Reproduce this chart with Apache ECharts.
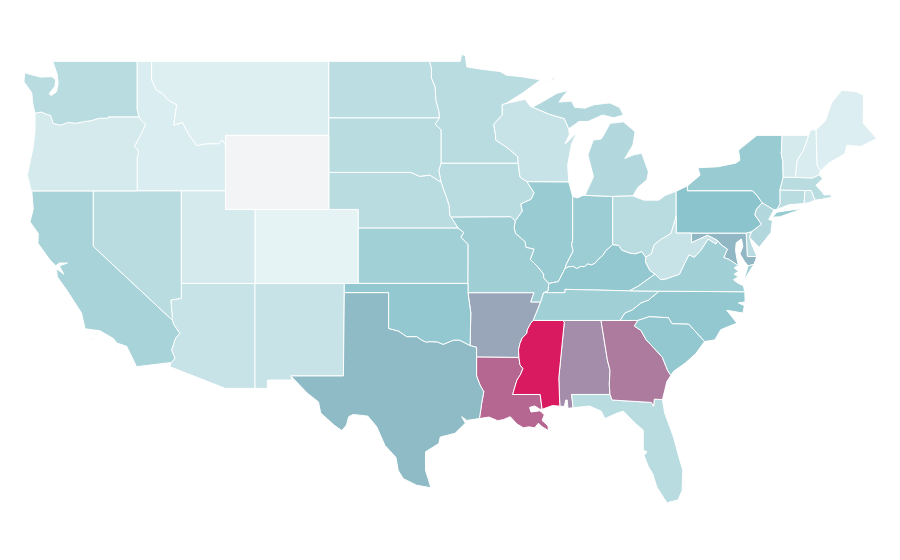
<!DOCTYPE html>
<html>
<head>
<meta charset="utf-8">
<style>
  html, body { margin: 0; padding: 0; background: #fff; }
  #chart { width: 900px; height: 560px; }
</style>
<script src="https://cdn.jsdelivr.net/npm/echarts@6/dist/echarts.min.js"></script>
</head>
<body>
<div id="chart"></div>
<script>
const stateNames = [
  "Alabama", "Arizona", "Arkansas", "California", "Colorado", "Connecticut", "Delaware", "Florida",
  "Georgia", "Idaho", "Illinois", "Indiana", "Iowa", "Kansas", "Kentucky", "Louisiana",
  "Maine", "Maryland", "Massachusetts", "Michigan", "Minnesota", "Mississippi", "Missouri", "Montana",
  "Nebraska", "Nevada", "New Hampshire", "New Jersey", "New Mexico", "New York", "North Carolina", "North Dakota",
  "Ohio", "Oklahoma", "Oregon", "Pennsylvania", "Rhode Island", "South Carolina", "South Dakota", "Tennessee",
  "Texas", "Utah", "Vermont", "Virginia", "Washington", "West Virginia", "Wisconsin", "Wyoming"
];
const stateValues = [
  77.4, 44.4, 72.6, 56.3, 33.3, 49.6, 49.6, 49.6,
  81, 37.4, 61.9, 60, 49.6, 58.1, 63.7, 85,
  36.7, 69.2, 49.6, 52.2, 49.6, 100, 59.3, 36.3,
  49.6, 49.6, 37.8, 52.2, 44.4, 61.5, 63.7, 48.5,
  49.6, 63.7, 39.6, 66.7, 44.4, 63.7, 49.6, 58.9,
  68.4, 39.6, 39.6, 58.9, 49.6, 44.4, 44.4, 0
];
const rampColors = ["#f3f4f5", "#e5f3f5", "#8bc4cc", "#d91a61"];

// shared borders, lon/lat
const rev = a => a.slice().reverse();
const ring = (...parts) => parts.flat();

const columbia = [[-123.95,46.2],[-123.5,46.26],[-123.2,46.15],[-122.9,46.08],[-122.8,45.85],[-122.73,45.65],[-122.25,45.55],[-121.7,45.7],[-121.2,45.65],[-120.65,45.74],[-120.1,45.8],[-119.65,45.92],[-119,45.93],[-118.98,46],[-116.92,46]];
const snake = [[-116.92,46],[-116.75,45.8],[-116.46,45.6],[-116.67,45.25],[-116.85,44.95],[-117.22,44.4],[-117.03,44.25],[-116.93,44.1],[-117.03,43.83],[-117.03,42]];
const idahoMontana = [[-116.05,49],[-116.05,48],[-115.72,47.45],[-115.3,47.25],[-114.95,46.92],[-114.35,46.65],[-114.45,46.15],[-114.55,45.55],[-113.95,45.7],[-113.75,45.35],[-113.45,44.95],[-113,44.45],[-112.3,44.55],[-111.5,44.55],[-111.25,44.75],[-111.05,44.48]];
const redRiverNorth = [[-97.23,49],[-97.1,48.6],[-97.1,48.1],[-96.85,47.6],[-96.8,46.9],[-96.6,46.3],[-96.56,45.94]];
const sdMinnesota = [[-96.56,45.94],[-96.85,45.6],[-96.45,45.3],[-96.45,43.5]];
const bigSioux = [[-96.45,43.5],[-96.6,43.1],[-96.45,42.49]];
const missouriSdNe = [[-98.5,43],[-97.9,42.79],[-97.2,42.85],[-96.7,42.6],[-96.45,42.49]];
const missouriNeIa = [[-96.45,42.49],[-96.25,42],[-96.1,41.7],[-95.9,41.2],[-95.85,40.65],[-95.77,40.58]];
const missouriNeMo = [[-95.77,40.58],[-95.3,40]];
const missouriKsMo = [[-95.3,40],[-94.9,39.75],[-95.1,39.5],[-94.61,39.11],[-94.62,37]];
const redRiverSouth = [[-100,34.56],[-99.33,34.42],[-98.77,34.12],[-98.1,34.12],[-97.75,33.93],[-97.45,33.82],[-97.2,33.85],[-96.7,33.83],[-96.3,33.7],[-95.6,33.93],[-95.2,33.93],[-94.48,33.64]];
const mnWisconsin = [[-92.05,46.72],[-92.3,46.66],[-92.3,46.1],[-92.88,45.6],[-92.75,45],[-92.75,44.75],[-91.9,44.3],[-91.25,43.85],[-91.22,43.5]];
const upperMississippi = [[-91.22,43.5],[-91.1,42.75],[-90.64,42.5]];
const ilRiverWest = [[-90.64,42.5],[-90.15,41.9],[-90.35,41.55],[-91.05,41.3],[-90.95,40.9],[-91.42,40.38]];
const ilMissouri = [[-91.42,40.38],[-91.5,40],[-91.4,39.7],[-90.75,39.25],[-90.7,38.95],[-90.15,38.85],[-90.4,38.3],[-89.9,37.9],[-89.5,37.5],[-89.5,37.3],[-89.15,37]];
const kyIllinois = [[-89.15,37],[-88.5,37.1],[-88.05,37.8]];
const ohioIndiana = [[-88.05,37.8],[-87.8,37.9],[-87.5,37.92],[-87.25,37.8],[-87,37.92],[-86.75,37.9],[-86.5,38.05],[-86.25,38],[-86,38.1],[-85.8,38.3],[-85.5,38.5],[-85.3,38.75],[-84.82,39.1]];
const ohioKentuckyOH = [[-84.82,39.1],[-84.4,39.05],[-84.2,38.8],[-83.7,38.65],[-83.3,38.6],[-82.85,38.72],[-82.58,38.42]];
const ohioWv = [[-82.58,38.42],[-82.2,38.6],[-82,39.1],[-81.5,39.4],[-80.87,39.7],[-80.6,40.4],[-80.52,40.64]];
const bigSandy = [[-82.58,38.42],[-82.6,38.17],[-82.3,37.7],[-81.95,37.5]];
const kyVirginia = [[-81.95,37.5],[-82.3,37.3],[-83.1,36.85],[-83.68,36.6]];
const tnKentucky = [[-83.68,36.6],[-88.05,36.68],[-88.05,36.5],[-89.5,36.5]];
const kyMissouri = [[-89.5,36.5],[-89.2,36.6],[-89.15,37]];
const tnArkansas = [[-89.5,36.5],[-89.7,36],[-89.95,35.5],[-90.2,35]];
const mississippiWest = [[-90.2,35],[-90.37,34.85],[-90.6,34.5],[-90.64,34.3],[-90.95,34.05],[-91.1,33.76],[-91.2,33.4],[-91.17,33]];
const mississippiLa = [[-91.17,33],[-91.1,32.6],[-90.9,32.4],[-91.05,32.1],[-91.31,31.77],[-91.45,31.4],[-91.57,31.07],[-91.6,31]];
const msAlabama = [[-88.2,35],[-88.1,34.9],[-88.47,31.9],[-88.4,30.37]];
const alGeorgia = [[-85.61,35],[-85.18,32.87],[-85,32.3],[-85.05,31.55],[-85,31]];
const gaSc = [[-83.11,35],[-83.35,34.7],[-82.9,34.45],[-82.55,33.95],[-81.9,33.4],[-81.45,33],[-81.1,32.3],[-80.88,32.03]];
const ncTennessee = [[-84.32,35],[-84,35.4],[-83.5,35.57],[-82.9,35.95],[-82.4,36.1],[-81.68,36.58]];
const vaWv = [[-81.95,37.5],[-81.55,37.2],[-81.2,37.25],[-80.3,37.5],[-80,38],[-79.65,38.55],[-79.3,38.42],[-78.87,38.77],[-78.35,39.4],[-77.83,39.13],[-77.72,39.32]];
const mdPotomac = [[-77.72,39.32],[-77.5,39.1],[-77.05,38.85],[-77.3,38.4],[-76.95,38.3],[-76.3,37.95]];
const wvMaryland = [[-77.72,39.32],[-78.4,39.6],[-79.48,39.2],[-79.48,39.72]];
const nyPennEast = [[-75.35,42],[-75.05,41.75],[-74.7,41.36]];
const njPenn = [[-74.7,41.36],[-75.1,41],[-75.2,40.7],[-74.75,40.2],[-75.4,39.8]];
const vtNh = [[-71.55,45],[-71.9,44.2],[-72.33,43.65],[-72.46,42.73]];
const nyVt = [[-73.34,45],[-73.4,44],[-73.3,43.6],[-73.27,42.75]];
const nyCt = [[-73.5,42.05],[-73.49,41.3],[-73.7,41]];
const laPearl = [[-89.6,30.2],[-89.73,31]];
const txLa = [[-94.04,33.02],[-94.04,32],[-93.8,31.5],[-93.55,31.15],[-93.7,30.5],[-93.75,30.2],[-93.85,29.7]];
const caNvSouth = [[-120,39],[-114.63,35]];
const coloradoRiver = [[-114.63,35],[-114.57,34.8],[-114.14,34.3],[-114.43,34.05],[-114.7,33.4],[-114.47,32.96],[-114.72,32.72]];

// outlines, [rings] for each state
const stateShapes = {
  "Washington": [[ring([[-123.95,46.2],[-124.1,46.7],[-124.17,47.3],[-124.7,47.9],[-124.65,48.38],[-123.6,48.15],[-122.8,48.17],[-122.55,48],[-122.6,47.65],[-123,47.25],[-122.85,47.15],[-122.5,47.35],[-122.38,47.8],[-122.45,48.3],[-122.75,49],[-117.04,49],[-117.04,46.42]], rev(columbia).slice(0,-1))]],
  "Oregon": [[ring([[-124.2,42],[-124.47,42.85],[-124.07,44.38],[-123.95,45.2]], columbia, snake)]],
  "California": [[ring([[-124.17,42],[-120,42]], caNvSouth, coloradoRiver, [[-115.03,32.7],[-117.07,32.5],[-117.17,32.67],[-117.74,33.6],[-118.4,33.78],[-118.65,34.03],[-119.55,34.44],[-120.56,34.55],[-120.8,35.4],[-121.8,36.64],[-122.44,37.35],[-122.5,37.8],[-122,37.5],[-122.3,37.95],[-121.75,38.1],[-122.3,38.1],[-122.55,37.95],[-122.93,38.26],[-123.75,39.17],[-123.73,39.7],[-124.29,40.33],[-124.07,41]])], [[[-120.15,34],[-119.9,33.98],[-120.05,34.05]]], [[[-119.85,34],[-119.6,34],[-119.75,34.05]]], [[[-118.55,33.45],[-118.35,33.35],[-118.45,33.47]]]],
  "Nevada": [[ring([[-120,42],[-114.04,42],[-114.04,36.2],[-114.75,36.1]], rev(caNvSouth))]],
  "Idaho": [[ring([[-117.04,49]], idahoMontana, [[-111.05,42]], rev(snake), [[-117.04,46.42]])]],
  "Montana": [[ring(rev(idahoMontana), [[-104.05,49],[-104.05,45],[-111.05,45]])]],
  "Wyoming": [[[[-111.05,45],[-104.05,45],[-104.05,41],[-111.05,41]]]],
  "Utah": [[[[-114.04,42],[-111.05,42],[-111.05,41],[-109.05,41],[-109.05,37],[-114.04,37]]]],
  "Colorado": [[[[-109.05,41],[-102.05,41],[-102.05,37],[-109.05,37]]]],
  "Arizona": [[ring([[-114.04,37],[-109.05,37],[-109.05,31.33],[-111.07,31.33],[-114.81,32.5]], rev(coloradoRiver), [[-114.75,36.1],[-114.04,36.2]])]],
  "New Mexico": [[[[-109.05,37],[-103,37],[-103.06,32],[-106.62,32],[-106.53,31.78],[-108.21,31.78],[-108.21,31.33],[-109.05,31.33]]]],
  "North Dakota": [[ring([[-104.05,49]], redRiverNorth, [[-104.05,45.94]])]],
  "South Dakota": [[ring([[-104.05,45.94]], sdMinnesota, bigSioux, rev(missouriSdNe), [[-104.05,43]])]],
  "Nebraska": [[ring([[-104.05,43]], missouriSdNe, missouriNeIa, missouriNeMo, [[-102.05,40],[-102.05,41],[-104.05,41]])]],
  "Kansas": [[ring([[-102.05,40]], missouriKsMo, [[-102.05,37]])]],
  "Oklahoma": [[ring([[-103,37],[-94.62,37],[-94.62,36.5],[-94.43,35.4]], rev(redRiverSouth), [[-100,36.5],[-103,36.5]])]],
  "Texas": [[ring([[-103,36.5],[-100,36.5]], redRiverSouth, [[-94.04,33.55]], txLa, [[-94.7,29.6],[-95.05,29.8],[-94.8,29.45],[-95.5,28.9],[-96.5,28.7],[-96.6,28.35],[-97.5,27.9],[-97.5,26.9],[-97.3,26.4],[-97.14,25.96],[-98.1,26.1],[-99,26.45],[-99.35,26.9],[-99.5,27.6],[-100.25,28.25],[-100.8,29.25],[-101.4,29.83],[-102.4,29.92],[-102.7,29.8],[-102.85,29.35],[-103.17,29.05],[-103.7,29.35],[-104.6,30],[-104.75,30.6],[-105.5,31.07],[-106.62,32],[-103.06,32]])]],
  "Minnesota": [[ring(redRiverNorth, sdMinnesota, [[-91.22,43.5]], rev(mnWisconsin), [[-90.9,47.3],[-89.7,48],[-91,48.17],[-92,48.25],[-92.45,48.45],[-93.7,48.57],[-94.7,48.7],[-94.8,49.3],[-95.05,49.38],[-95.15,49]])]],
  "Iowa": [[ring([[-96.45,43.5]], upperMississippi, ilRiverWest, [[-91.73,40.6]], rev(missouriNeIa), rev(bigSioux).slice(1))]],
  "Missouri": [[ring(rev(missouriNeMo), [[-91.73,40.6]], ilMissouri, rev(kyMissouri), [[-89.7,36],[-90.37,36],[-90.15,36.5],[-94.62,36.5]], rev(missouriKsMo))]],
  "Arkansas": [[ring([[-94.62,36.5],[-90.15,36.5],[-90.37,36],[-89.7,36],[-89.95,35.5]], mississippiWest, [[-94.04,33.02],[-94.04,33.55],[-94.48,33.64],[-94.43,35.4]])]],
  "Louisiana": [[ring(txLa, [[-93.2,29.78],[-92.6,29.58],[-92.2,29.65],[-91.76,29.8],[-91.3,29.4],[-90.87,29.2],[-90.5,29.25],[-90.1,29.2],[-89.85,29.45],[-89.6,29.25],[-89.17,29.05],[-89.2,29.3],[-89.6,29.6],[-89.45,29.9],[-89.65,30.05],[-89.75,30.12],[-90.35,30.05],[-90.45,30.3],[-90.1,30.38],[-89.75,30.2]], laPearl, rev(mississippiLa))]],
  "Mississippi": [[ring(msAlabama, [[-88.9,30.4]], laPearl, rev(mississippiLa), rev(mississippiWest).slice(1))]],
  "Alabama": [[ring(msAlabama, [[-88.1,30.35],[-88,30.7],[-87.9,30.7],[-87.85,30.25],[-87.5,30.28],[-87.6,31]], rev(alGeorgia))]],
  "Georgia": [[ring(alGeorgia, [[-84.86,30.7],[-82.2,30.57],[-82.05,30.37],[-82,30.75],[-81.45,30.72],[-81.3,31.2],[-81.15,31.7]], rev(gaSc), [[-84.32,35]])]],
  "Florida": [[[[-87.6,31],[-85,31],[-84.86,30.7],[-82.2,30.57],[-82.05,30.37],[-82,30.75],[-81.45,30.72],[-81.3,30],[-80.7,28.7],[-80.4,27.8],[-80.07,26.9],[-80.12,25.8],[-80.4,25.3],[-81.15,25.15],[-81.83,26],[-82.1,26.7],[-82.4,27.1],[-82.7,27.7],[-82.5,27.9],[-82.75,28],[-82.75,29.07],[-83.3,29.45],[-84.1,30.1],[-84.5,30],[-85.35,29.7],[-85.6,30.1],[-86.4,30.38],[-87.5,30.28]]]],
  "South Carolina": [[ring(gaSc, [[-80.7,32.25],[-79.9,32.7],[-79.2,33.2],[-78.6,33.86],[-79.67,34.8],[-80.8,34.82],[-81.05,35.15],[-82.35,35.2]])]],
  "North Carolina": [[ring(ncTennessee, [[-75.87,36.55],[-75.85,36],[-76.3,35.95],[-75.9,35.8],[-76,35.4],[-77.1,35.55],[-76.4,34.85],[-76.9,34.7],[-77.5,34.5],[-77.9,33.95],[-78.6,33.86],[-79.67,34.8],[-80.8,34.82],[-81.05,35.15],[-82.35,35.2],[-83.11,35]])]],
  "Tennessee": [[ring([[-90.2,35],[-88.2,35],[-85.61,35]], ncTennessee, tnKentucky, tnArkansas)]],
  "Kentucky": [[ring(kyIllinois, ohioIndiana, ohioKentuckyOH, bigSandy, kyVirginia, tnKentucky, kyMissouri)]],
  "Virginia": [[ring(rev(kyVirginia), vaWv, mdPotomac, [[-76.6,37.85],[-76.3,37.65],[-76.6,37.5],[-76.3,37.35],[-76.65,37.2],[-76.3,37],[-75.97,36.88],[-75.87,36.55],[-81.68,36.58]])], [[[-75.95,37.15],[-75.6,37.6],[-75.25,38.03],[-75.65,37.95]]]],
  "West Virginia": [[ring(rev(bigSandy), ohioWv, [[-80.52,39.72]], rev(wvMaryland), rev(vaWv))]],
  "Ohio": [[ring([[-84.82,41.7],[-83.45,41.73],[-82.7,41.5],[-81.7,41.5],[-81.25,41.76],[-80.52,41.98]], rev(ohioWv), rev(ohioKentuckyOH))]],
  "Indiana": [[ring([[-84.82,39.1],[-84.82,41.7],[-86.82,41.76],[-87.2,41.62],[-87.53,41.7],[-87.53,39.35],[-87.6,39.1],[-87.5,38.75],[-87.95,38.05]], ohioIndiana)]],
  "Illinois": [[ring([[-87.53,41.7],[-87.8,42.49]], ilRiverWest, ilMissouri, kyIllinois, [[-87.95,38.05],[-87.5,38.75],[-87.6,39.1],[-87.53,39.35]])]],
  "Wisconsin": [[ring(mnWisconsin, upperMississippi, [[-87.8,42.49],[-87.87,43.4],[-87.6,44.55],[-87.25,45.15],[-87.95,44.6],[-88.05,44.55],[-87.75,45.05],[-87.8,45.35],[-88.1,45.9],[-89.1,46.13],[-90.4,46.57],[-90.75,46.95],[-91.2,46.87]])]],
  "Michigan": [[[[-86.7,41.76],[-84.82,41.7],[-83.45,41.73],[-83.1,42.2],[-82.5,42.6],[-82.4,43.03],[-82.85,44.03],[-83.4,43.95],[-84,43.75],[-83.45,44.48],[-83.3,45.2],[-84.1,45.73],[-85,45.65],[-85.3,45.2],[-85.6,44.8],[-86.13,44.75],[-86.5,43.95],[-86.12,42.76]]], [[[-90.4,46.57],[-89.1,46.13],[-88.1,45.9],[-87.8,45.35],[-87.1,45.75],[-86.5,45.75],[-85.5,46.1],[-84.75,45.95],[-84.1,46.1],[-84.35,46.5],[-85,46.75],[-85.3,46.73],[-86.1,46.65],[-86.7,46.47],[-87.4,46.52],[-87.6,46.85],[-88.45,46.8],[-88.2,47.1],[-87.85,47.42],[-88.6,47.27],[-89.5,46.85],[-90.2,46.55]]], [[[-89.17,47.9],[-88.65,48.08],[-88.85,48.1]]]],
  "Pennsylvania": [[ring([[-80.52,41.98],[-79.76,42.27],[-79.76,42]], nyPennEast, njPenn, [[-75.78,39.72],[-80.52,39.72]])]],
  "New York": [[ring([[-79.76,42.27],[-78.9,42.85],[-79.05,43.25],[-77.7,43.3],[-76.5,43.5],[-76.2,43.65],[-76.3,44.2],[-75.05,45]], nyVt, nyCt, [[-73.9,40.98]], rev(nyPennEast), [[-79.76,42]])], [[[-74,40.58],[-73.5,40.6],[-71.9,41.05],[-72.6,40.98],[-73.7,40.85]]]],
  "New Jersey": [[ring(rev(njPenn), [[-73.9,40.98],[-74.25,40.45],[-74,40.4],[-74.1,39.75],[-74.9,38.95],[-75.55,39.5]])]],
  "Delaware": [[[[-75.78,39.72],[-75.4,39.8],[-75.55,39.5],[-75.4,39.1],[-75.05,38.45],[-75.7,38.46]]]],
  "Maryland": [[ring([[-79.48,39.72],[-75.78,39.72],[-75.7,38.46],[-75.05,38.45],[-75.25,38.03],[-75.65,37.95],[-75.9,38.2],[-76.2,38.6],[-76,39],[-76.1,39.4],[-76.45,39.2],[-76.5,38.8],[-76.4,38.3]], rev(mdPotomac), wvMaryland)]],
  "Connecticut": [[ring(nyCt, [[-72.9,41.25],[-71.85,41.32],[-71.8,42.02]])]],
  "Rhode Island": [[[[-71.8,42.02],[-71.38,42.02],[-71.12,41.5],[-71.5,41.37],[-71.85,41.32]]]],
  "Massachusetts": [[[[-73.5,42.05],[-73.27,42.75],[-72.46,42.73],[-71.3,42.7],[-70.82,42.87],[-70.6,42.65],[-71.05,42.3],[-70.65,41.95],[-70.5,41.78],[-70.05,41.8],[-70,41.65],[-70.65,41.55],[-71.12,41.5],[-71.38,42.02],[-71.8,42.02]]]],
  "Vermont": [[ring(nyVt, rev(vtNh))]],
  "New Hampshire": [[ring(vtNh, [[-71.3,42.7],[-70.82,42.87],[-70.75,43.07],[-70.98,43.4],[-71.05,45.3],[-71.4,45.3]])]],
  "Maine": [[[[-71.05,45.3],[-70.4,45.8],[-70,46.75],[-69.3,47.45],[-68.3,47.35],[-67.83,47.18],[-67.85,45.65],[-67.45,45.3],[-66.95,44.83],[-68,44.4],[-68.95,44.47],[-69.1,44],[-70.2,43.5],[-70.75,43.07],[-70.98,43.4]]]]
};

const usaGeo = {
  type: "FeatureCollection",
  features: stateNames.map(name => ({
    type: "Feature",
    properties: { name },
    geometry: { type: "MultiPolygon", coordinates: stateShapes[name] }
  }))
};

echarts.registerMap("USA", usaGeo);

const chart = echarts.init(document.getElementById("chart"), null, { renderer: "canvas" });

chart.setOption({
  animation: false,
  backgroundColor: "#ffffff",
  visualMap: {
    show: false,
    min: 0,
    max: 100,
    inRange: { color: rampColors }
  },
  series: [
    {
      type: "map",
      map: "USA",
      silent: true,
      aspectScale: 0.798,
      boundingCoords: [[-124.73, 49.38], [-66.95, 25.12]],
      left: 23.5,
      top: 54.3,
      width: 853,
      height: 449,
      label: { show: false },
      itemStyle: { borderColor: "#ffffff", borderWidth: 1 },
      data: stateNames.map((name, i) => ({ name, value: stateValues[i] }))
    }
  ]
});
</script>
</body>
</html>
